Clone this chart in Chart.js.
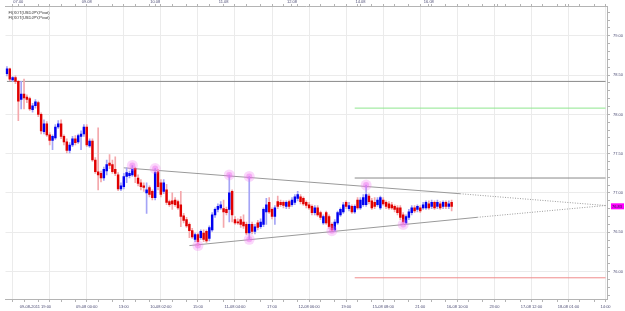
<!DOCTYPE html>
<html>
<head>
<meta charset="utf-8">
<title>USDJPY H1</title>
<script src="https://cdn.jsdelivr.net/npm/chart.js@4.4.1/dist/chart.umd.min.js"></script>
<style>
	html, body { margin: 0; padding: 0; background: #fff; }
	#chart-wrap { width: 625px; height: 311px; }
</style>
</head>
<body>
<div id="chart-wrap"><canvas id="chart-usdjpy" width="625" height="311"></canvas></div>
<script>
//---------------------------------------------------------
// Data (USDJPY, hourly bars)
//---------------------------------------------------------
const OPEN = [
	78.52, 78.58, 78.44, 78.47, 78.42, 78.19, 78.26, 78.22, 78.20, 78.06,
	78.11, 78.15, 78.00, 77.78, 77.88, 77.74, 77.67, 77.70, 77.84, 77.88,
	77.72, 77.65, 77.54, 77.61, 77.69, 77.65, 77.72, 77.75, 77.84, 77.60,
	77.66, 77.42, 77.27, 77.25, 77.19, 77.28, 77.38, 77.36, 77.30, 77.23,
	77.05, 77.08, 77.21, 77.22, 77.23, 77.31, 77.19, 77.13, 77.09, 77.00,
	77.07, 77.02, 76.94, 77.27, 77.13, 77.02, 77.04, 76.89, 76.90, 76.91,
	76.89, 76.85, 76.71, 76.66, 76.60, 76.52, 76.41, 76.47, 76.43, 76.49,
	76.51, 76.42, 76.53, 76.72, 76.79, 76.81, 76.80, 76.79, 76.79, 77.02,
	76.66, 76.63, 76.66, 76.63, 76.60, 76.49, 76.60, 76.51, 76.62, 76.57,
	76.60, 76.76, 76.88, 76.79, 76.70, 76.89, 76.88, 76.88, 76.83, 76.89,
	76.85, 76.88, 76.93, 76.95, 76.93, 76.88, 76.85, 76.83, 76.75, 76.81,
	76.75, 76.62, 76.75, 76.70, 76.60, 76.53, 76.62, 76.72, 76.76, 76.88,
	76.80, 76.83, 76.76, 76.91, 76.81, 76.85, 76.85, 76.96, 76.90, 76.88,
	76.85, 76.81, 76.91, 76.88, 76.86, 76.85, 76.83, 76.81, 76.81, 76.72,
	76.62, 76.69, 76.75, 76.81, 76.79, 76.81, 76.81, 76.81, 76.86, 76.83,
	76.88, 76.83, 76.86, 76.83, 76.88, 76.83, 76.88,
];
const HIGH = [
	78.61, 78.59, 78.48, 78.49, 78.43, 78.42, 78.45, 78.25, 78.22, 78.14,
	78.19, 78.17, 78.02, 77.93, 77.91, 77.77, 77.74, 77.87, 77.92, 77.93,
	77.74, 77.69, 77.64, 77.72, 77.73, 77.75, 77.79, 77.87, 77.87, 77.69,
	77.69, 77.45, 77.83, 77.28, 77.33, 77.42, 77.49, 77.42, 77.46, 77.26,
	77.13, 77.25, 77.32, 77.28, 77.35, 77.33, 77.23, 77.17, 77.13, 77.13,
	77.09, 77.04, 77.31, 77.30, 77.17, 77.17, 77.11, 76.91, 77.00, 76.94,
	76.91, 77.02, 76.74, 76.69, 76.62, 76.55, 76.49, 76.49, 76.53, 76.53,
	76.53, 76.58, 76.75, 76.81, 76.86, 76.89, 76.91, 76.82, 77.23, 77.04,
	76.70, 76.67, 76.70, 76.72, 76.63, 77.21, 76.63, 76.60, 76.65, 76.67,
	76.81, 76.93, 76.94, 76.81, 76.84, 76.96, 76.91, 76.90, 76.90, 76.91,
	76.94, 76.98, 77.02, 76.98, 76.95, 76.90, 76.88, 76.85, 76.84, 76.84,
	76.77, 76.72, 76.77, 76.72, 76.62, 76.66, 76.77, 76.81, 76.88, 76.90,
	76.88, 76.85, 76.85, 76.94, 76.94, 76.98, 77.10, 76.99, 76.93, 76.94,
	76.94, 76.96, 76.94, 76.90, 76.89, 76.88, 76.85, 76.84, 76.84, 76.75,
	76.72, 76.79, 76.84, 76.84, 76.85, 76.84, 76.88, 76.90, 76.90, 76.91,
	76.90, 76.91, 76.89, 76.90, 76.90, 76.90, 76.91,
];
const LOW = [
	78.49, 78.43, 78.42, 78.39, 77.92, 78.07, 78.07, 78.15, 78.05, 78.03,
	78.08, 77.97, 77.75, 77.75, 77.72, 77.61, 77.55, 77.68, 77.82, 77.69,
	77.61, 77.51, 77.51, 77.59, 77.61, 77.63, 77.55, 77.72, 77.59, 77.58,
	77.40, 77.25, 77.04, 77.14, 77.16, 77.23, 77.31, 77.25, 77.22, 77.03,
	77.03, 77.05, 77.13, 77.19, 77.21, 77.13, 77.09, 77.04, 77.02, 76.74,
	76.95, 76.91, 76.91, 77.04, 76.95, 76.99, 76.85, 76.83, 76.79, 76.83,
	76.79, 76.57, 76.62, 76.56, 76.43, 76.42, 76.38, 76.33, 76.41, 76.38,
	76.37, 76.39, 76.51, 76.69, 76.76, 76.79, 76.56, 76.72, 76.63, 76.63,
	76.60, 76.60, 76.56, 76.55, 76.47, 76.41, 76.48, 76.48, 76.53, 76.55,
	76.57, 76.60, 76.74, 76.67, 76.60, 76.80, 76.83, 76.81, 76.80, 76.80,
	76.83, 76.85, 76.90, 76.86, 76.84, 76.81, 76.79, 76.72, 76.72, 76.70,
	76.66, 76.60, 76.60, 76.55, 76.52, 76.51, 76.60, 76.70, 76.74, 76.80,
	76.77, 76.74, 76.74, 76.79, 76.79, 76.83, 76.83, 76.86, 76.79, 76.80,
	76.83, 76.79, 76.84, 76.80, 76.79, 76.79, 76.76, 76.72, 76.66, 76.60,
	76.60, 76.66, 76.72, 76.75, 76.76, 76.75, 76.79, 76.79, 76.79, 76.80,
	76.79, 76.80, 76.79, 76.80, 76.80, 76.80, 76.77,
];
const CLOSE = [
	78.58, 78.45, 78.47, 78.42, 78.17, 78.26, 78.21, 78.19, 78.07, 78.11,
	78.16, 78.00, 77.79, 77.88, 77.74, 77.67, 77.72, 77.84, 77.88, 77.72,
	77.65, 77.54, 77.61, 77.69, 77.64, 77.73, 77.75, 77.84, 77.61, 77.66,
	77.42, 77.27, 77.23, 77.19, 77.30, 77.36, 77.35, 77.27, 77.25, 77.05,
	77.09, 77.21, 77.26, 77.25, 77.30, 77.21, 77.12, 77.08, 77.07, 77.04,
	76.98, 76.94, 77.26, 77.08, 76.98, 77.13, 76.88, 76.85, 76.86, 76.85,
	76.81, 76.70, 76.65, 76.58, 76.52, 76.44, 76.47, 76.38, 76.51, 76.41,
	76.39, 76.56, 76.72, 76.79, 76.83, 76.85, 76.76, 76.75, 77.00, 76.72,
	76.62, 76.62, 76.60, 76.58, 76.49, 76.60, 76.51, 76.57, 76.56, 76.63,
	76.79, 76.85, 76.76, 76.70, 76.81, 76.83, 76.85, 76.84, 76.88, 76.83,
	76.91, 76.95, 76.98, 76.89, 76.86, 76.84, 76.81, 76.75, 76.81, 76.72,
	76.69, 76.70, 76.62, 76.57, 76.53, 76.63, 76.75, 76.79, 76.85, 76.83,
	76.84, 76.76, 76.83, 76.81, 76.91, 76.94, 76.98, 76.89, 76.81, 76.83,
	76.91, 76.94, 76.86, 76.83, 76.81, 76.81, 76.79, 76.75, 76.69, 76.63,
	76.70, 76.76, 76.81, 76.77, 76.83, 76.77, 76.85, 76.88, 76.81, 76.88,
	76.81, 76.88, 76.81, 76.88, 76.83, 76.86, 76.83,
];

// Pivot levels
const LEVEL_VALUES = [78.42, 78.08, 77.19, 75.92];
const LEVEL_FROM = ["07-08 20:00", "12-08 22:00", "12-08 22:00", "12-08 22:00"];
const LEVEL_TO = "18-08 14:00";

// Triangle (solid part, then projection to the apex)
const UPPER_TREND_X = ["09-08 13:00", "16-08 11:00", "18-08 14:00"];
const UPPER_TREND_Y = [77.32, 76.99, 76.84];
const LOWER_TREND_X = ["10-08 12:00", "16-08 17:00", "18-08 14:00"];
const LOWER_TREND_Y = [76.33, 76.69, 76.84];

// Swing points
const SWING_X = ["09-08 16:00", "10-08 00:00", "11-08 02:00", "11-08 09:00", "10-08 15:00", "11-08 09:00", "12-08 14:00", "15-08 02:00", "15-08 15:00"];
const SWING_Y = [77.35, 77.31, 77.23, 77.21, 76.33, 76.41, 76.52, 77.10, 76.60];

// Tick labels
const BOTTOM_TICKS = ["09-08-2011 19:00", "09-08 00:00", "13:00", "10-08 02:00", "15:00", "11-08 04:00", "17:00", "12-08 06:00", "19:00", "15-08 08:00", "21:00", "16-08 10:00", "23:00", "17-08 12:00", "18-08 01:00", "14:00"];
const TOP_TICKS = ["07.00", "09.08", "10.08", "11.08", "12.08", "14.08", "16.08"];
const LEGEND_LINES = ["FI(XOT(USDJPY,Pivot)", "FI(XOT(USDJPY,Pivot)"];

// Hourly categories, weekend skipped
const SKIP_DAYS = ["13-08", "14-08"];
const CATEGORIES = [];
const pad = (n) => String(n).padStart(2, "0");
for (let t = Date.UTC(2011, 7, 7, 20); CATEGORIES.length < 211; t += 3600000) {
	const d = new Date(t);
	const day = pad(d.getUTCDate()) + "-" + pad(d.getUTCMonth() + 1);
	if (SKIP_DAYS.includes(day)) continue;
	CATEGORIES.push(day + " " + pad(d.getUTCHours()) + ":00");
}

//---------------------------------------------------------
// Styles
//---------------------------------------------------------
const COLORS = {
	bodyUp: "#0000f0",
	bodyDown: "#e00000",
	wickUp: "#a4a4f6",
	wickDown: "#f4a8ac",
	grid: "#ebebeb",
	axis: "#b4b4b4",
	text: "#4c4c74",
	trend: "#9a9a9a",
	glow: "240, 110, 240",
};
const LEVEL_COLORS = ["#8a8a8a", "#8fe68f", "#8a8a8a", "#f08c8c"];
const TICK_FONT = { family: "'Liberation Sans', Arial, sans-serif", size: 4 };

const GRID_FIRST = 2;
const GRID_STEP = 13;
const isGridIndex = (i) => (i - GRID_FIRST) % GRID_STEP === 0;
const isMinorIndex = (i) => [0, 4, 9].includes((i - GRID_FIRST + GRID_STEP) % GRID_STEP);
const isHalf = (v) => Math.abs(v * 2 - Math.round(v * 2)) < 1e-6;
const candleColor = (up, down) => (c) => (CLOSE[c.dataIndex] >= OPEN[c.dataIndex] ? up : down);
const points = (xs, ys) => xs.map((x, i) => ({ x, y: ys[i] }));

// Legend text and last price badge
const MT4_OVERLAY = {
	id: "mt4Overlay",
	afterDraw(chart) {
		const { ctx, chartArea, scales } = chart;
		ctx.save();
		ctx.font = "4px 'Liberation Sans', Arial, sans-serif";
		ctx.fillStyle = "#303030";
		ctx.textBaseline = "alphabetic";
		LEGEND_LINES.forEach((line, i) => ctx.fillText(line, chartArea.left + 3, chartArea.top + 8 + i * 5));

		const last = CLOSE[CLOSE.length - 1];
		const y = scales.y.getPixelForValue(last);
		ctx.fillStyle = "#ff00ff";
		ctx.fillRect(scales.y.left + 4, y - 3, 13, 6);
		ctx.fillStyle = "#202040";
		ctx.textBaseline = "middle";
		ctx.fillText(last.toFixed(2), scales.y.left + 5, y + 0.3);
		ctx.restore();
	},
};

//---------------------------------------------------------
// Chart
//---------------------------------------------------------
const CHART_DATA = {
	labels: CATEGORIES,
	datasets: [
		...LEVEL_VALUES.map((v, i) => ({
			type: "line",
			data: [{ x: LEVEL_FROM[i], y: v }, { x: LEVEL_TO, y: v }],
			borderColor: LEVEL_COLORS[i],
			borderWidth: 1,
			pointRadius: 0,
			order: 6,
		})),
		{
			type: "line",
			data: points(UPPER_TREND_X, UPPER_TREND_Y),
			borderColor: COLORS.trend,
			borderWidth: 1,
			pointRadius: 0,
			segment: { borderDash: (c) => (c.p0DataIndex === 1 ? [1, 1.5] : undefined) },
			order: 5,
		},
		{
			type: "line",
			data: points(LOWER_TREND_X, LOWER_TREND_Y),
			borderColor: COLORS.trend,
			borderWidth: 1,
			pointRadius: 0,
			segment: { borderDash: (c) => (c.p0DataIndex === 1 ? [1, 1.5] : undefined) },
			order: 5,
		},
		{
			type: "bar",
			data: HIGH.map((h, i) => [LOW[i], h]),
			backgroundColor: candleColor(COLORS.wickUp, COLORS.wickDown),
			barThickness: 1,
			grouped: false,
			order: 4,
		},
		{
			type: "bar",
			data: OPEN.map((o, i) => [o, CLOSE[i]]),
			backgroundColor: candleColor(COLORS.bodyUp, COLORS.bodyDown),
			barThickness: 1.8,
			minBarLength: 1,
			grouped: false,
			order: 3,
		},
		{
			type: "line",
			data: points(SWING_X, SWING_Y),
			showLine: false,
			pointRadius: 5.5,
			pointBorderWidth: 0,
			pointBackgroundColor: `rgba(${COLORS.glow}, 0.28)`,
			order: 2,
		},
		{
			type: "line",
			data: points(SWING_X, SWING_Y),
			showLine: false,
			pointRadius: 3,
			pointBorderWidth: 0,
			pointBackgroundColor: `rgba(${COLORS.glow}, 0.45)`,
			order: 1,
		},
	],
};

const CHART_CONFIG = {
	type: "bar",
	data: CHART_DATA,
	plugins: [MT4_OVERLAY],
	options: {
		responsive: false,
		animation: false,
		events: [],
		layout: { padding: 0 },
		scales: {
			x: {
				type: "category",
				position: "bottom",
				offset: true,
				border: { color: COLORS.axis },
				grid: {
					offset: false,
					color: (c) => (isGridIndex(c.index) ? COLORS.grid : "transparent"),
					tickColor: (c) => (isMinorIndex(c.index) ? COLORS.axis : "transparent"),
					tickLength: 3,
				},
				ticks: {
					autoSkip: false,
					maxRotation: 0,
					minRotation: 0,
					padding: 2,
					font: TICK_FONT,
					color: COLORS.text,
					callback: (value, index) => {
						if (index === 10) return BOTTOM_TICKS[0];
						const k = (index - 28) / GRID_STEP;
						return Number.isInteger(k) && k >= 0 ? BOTTOM_TICKS[k + 1] : "";
					},
				},
				afterFit: (scale) => {
					scale.height = 12;
				},
			},
			xTop: {
				type: "category",
				position: "top",
				offset: true,
				border: { color: COLORS.axis },
				grid: {
					offset: false,
					drawOnChartArea: false,
					tickColor: (c) => (isMinorIndex(c.index) || (c.index - 4) % 24 === 0 ? COLORS.axis : "transparent"),
					tickLength: 2,
				},
				ticks: {
					autoSkip: false,
					maxRotation: 0,
					minRotation: 0,
					padding: 0,
					font: TICK_FONT,
					color: COLORS.text,
					callback: (value, index) => {
						const k = (index - 4) / 24;
						return Number.isInteger(k) && k >= 0 && k < TOP_TICKS.length ? TOP_TICKS[k] : "";
					},
				},
				afterFit: (scale) => {
					scale.height = 6;
				},
			},
			y: {
				type: "linear",
				position: "right",
				min: 75.65,
				max: 79.38,
				border: { color: COLORS.axis },
				grid: {
					color: (c) => (c.tick && isHalf(c.tick.value) ? COLORS.grid : "transparent"),
					tickColor: COLORS.axis,
					tickLength: 3,
				},
				ticks: {
					stepSize: 0.1,
					includeBounds: false,
					autoSkip: false,
					padding: 3,
					font: TICK_FONT,
					color: COLORS.text,
					callback: (value) => (isHalf(value) ? value.toFixed(2) : ""),
				},
				afterFit: (scale) => {
					scale.width = 18;
				},
			},
		},
		plugins: {
			legend: { display: false },
			tooltip: { enabled: false },
			title: { display: false },
		},
	},
};

const CHART_WRAPPER = document.getElementById("chart-usdjpy");
if (CHART_WRAPPER) {
	new Chart(CHART_WRAPPER, CHART_CONFIG);
}
</script>
</body>
</html>
